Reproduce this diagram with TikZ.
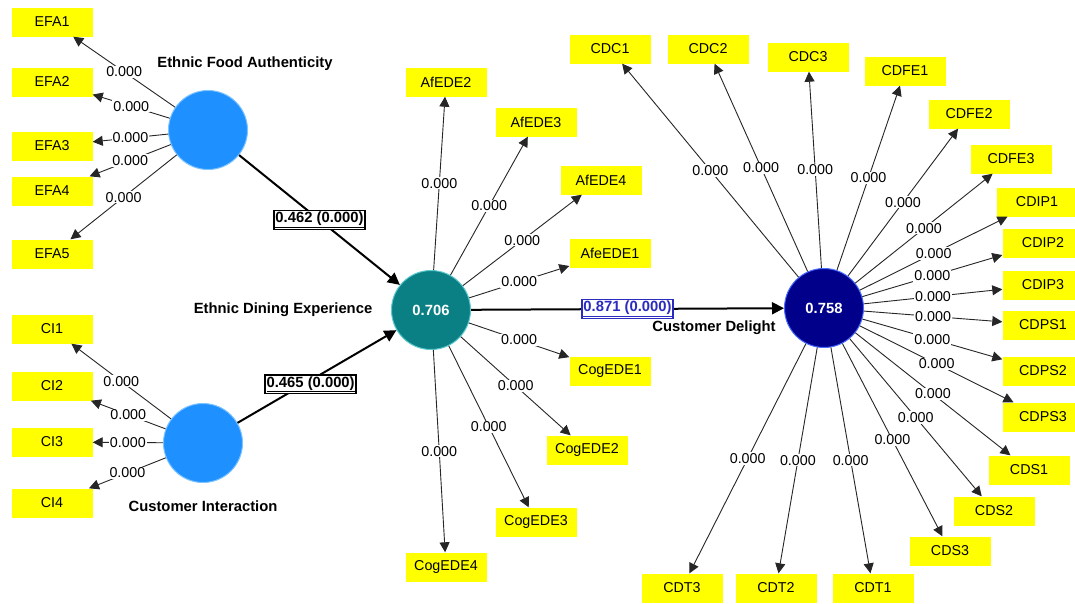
\documentclass[tikz,border=0pt]{standalone}
\usepackage{fontspec}
\setmainfont{Liberation Sans}
\usetikzlibrary{arrows.meta}
\definecolor{indyel}{HTML}{FFFF00}
\definecolor{lvblue}{HTML}{1E90FF}
\definecolor{lvblueedge}{HTML}{7CC4FF}
\definecolor{lvteal}{HTML}{0A7F84}
\definecolor{lvtealedge}{HTML}{5FC9D0}
\definecolor{lvnavy}{HTML}{00008B}
\definecolor{lvnavyedge}{HTML}{4A6CFF}
\definecolor{coefblue}{HTML}{2B2BC0}
\tikzset{
  txt/.style={font=\fontsize{14.3}{16}\selectfont},
  btxt/.style={font=\bfseries\fontsize{14.8}{17}\selectfont},
  ind/.style={rectangle, fill=indyel, minimum width=81pt, minimum height=29pt, inner sep=0pt, txt},
  lat/.style={circle, minimum size=79pt, inner sep=0pt, line width=1pt, text=white, btxt},
  lbl/.style={fill=white, inner sep=1pt, txt},
  meas/.style={line width=0.9pt, draw=black!85, -{Triangle[length=10pt,width=10pt]}},
  struct/.style={line width=2pt, -{Triangle[length=12pt,width=12pt]}},
  coef/.style={draw=black, line width=1.5pt, fill=white, inner sep=1.5pt, btxt},
  coefb/.style={draw=coefblue, line width=1.5pt, fill=white, inner sep=1.5pt, text=coefblue, btxt},
  lvname/.style={btxt}
}
\begin{document}
\begin{tikzpicture}[x=1pt,y=-1pt]
\useasboundingbox (0,0) rectangle (1075,603);
\fill[white] (0,0) rectangle (1075,603);

% latent variables
\node[lat, fill=lvblue, draw=lvblueedge] (EFA) at (208,130) {};
\node[lat, fill=lvblue, draw=lvblueedge] (CI) at (203,443) {};
\node[lat, fill=lvteal, draw=lvtealedge] (EDE) at (431,310) {0.706};
\node[lat, fill=lvnavy, draw=lvnavyedge] (CD) at (824,308) {0.758};

\node[lvname] (nEFA) at (245,64) {Ethnic Food Authenticity};
\node[lvname] (nCI) at (203,506) {Customer Interaction};
\node[lvname] (nEDE) at (283,310) {Ethnic Dining Experience};
\node[lvname] (nCD) at (714,328) {Customer Delight};

% EFA indicators
\foreach \i/\y in {1/22,2/82,3/146,4/191,5/254}{
  \node[ind] (EFA\i) at (52,\y) {EFA\i};
  \draw[meas] (EFA) -- node[lbl] (lEFA\i) {0.000} (EFA\i);
}
% CI indicators
\foreach \i/\y in {1/329,2/386,3/442,4/503}{
  \node[ind] (CI\i) at (52,\y) {CI\i};
  \draw[meas] (CI) -- node[lbl] (lCI\i) {0.000} (CI\i);
}
% EDE indicators
\foreach \n/\x/\y in {AfEDE2/446/82, AfEDE3/536/122, AfEDE4/601/180, AfeEDE1/610/253,
                      CogEDE1/610/371, CogEDE2/587/450, CogEDE3/536/522, CogEDE4/446/567}{
  \node[ind] (\n) at (\x,\y) {\n};
  \draw[meas] (EDE) -- node[lbl] (l\n) {0.000} (\n);
}
% CD indicators
\foreach \n/\x/\y in {CDC1/610/49, CDC2/708/49, CDC3/808/57, CDFE1/905/71, CDFE2/969/114,
                      CDFE3/1011/159, CDIP1/1037/202, CDIP2/1043/243, CDIP3/1043/285,
                      CDPS1/1043/325, CDPS2/1043/371, CDPS3/1043/417, CDS1/1029/470,
                      CDS2/994/511, CDS3/950/551, CDT1/873/588, CDT2/776/588, CDT3/682/588}{
  \node[ind] (\n) at (\x,\y) {\n};
  \draw[meas] (CD) -- node[lbl] (l\n) {0.000} (\n);
}

% structural paths
\draw[struct] (EFA) -- node[coef] (c1) {\underline{0.462 (0.000)}} (EDE);
\draw[struct] (CI) -- node[coef, pos=0.46, yshift=-4pt] (c2) {\underline{0.465 (0.000)}} (EDE);
\draw[struct] (EDE) -- node[coefb] (c3) {\underline{0.871 (0.000)}} (CD);
\end{tikzpicture}
\end{document}
